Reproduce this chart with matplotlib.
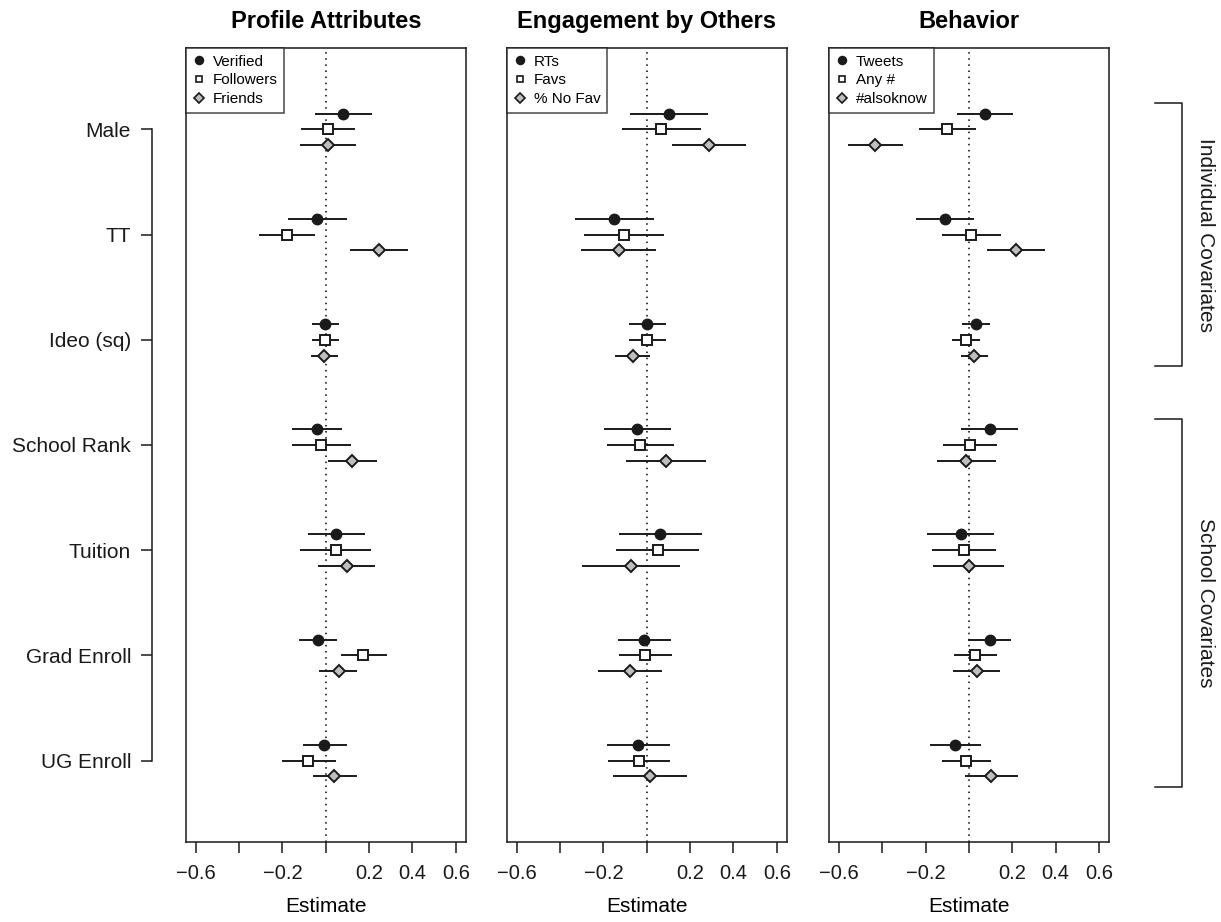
import matplotlib
matplotlib.use("Agg")
import matplotlib.pyplot as plt
import matplotlib.transforms as mtransforms
from matplotlib.lines import Line2D

plt.rcParams['font.family'] = ['Liberation Sans', 'DejaVu Sans']

# covariates, top to bottom
covariates = ["Male", "TT", "Ideo (sq)", "School Rank", "Tuition", "Grad Enroll", "UG Enroll"]

panel_titles = ["Profile Attributes", "Engagement by Others", "Behavior"]
series_names = [["Verified", "Followers", "Friends"],
                ["RTs", "Favs", "% No Fav"],
                ["Tweets", "Any #", "#alsoknow"]]

# estimates and interval bounds, one list per series (order = covariates)
verified_est = [0.080, -0.040, -0.003, -0.042, 0.048, -0.037, -0.006]
verified_lo = [-0.051, -0.176, -0.065, -0.154, -0.083, -0.125, -0.106]
verified_hi = [0.215, 0.096, 0.063, 0.073, 0.181, 0.051, 0.096]

followers_est = [0.012, -0.179, -0.005, -0.020, 0.046, 0.174, -0.080]
followers_lo = [-0.113, -0.309, -0.063, -0.157, -0.117, 0.068, -0.202]
followers_hi = [0.137, -0.048, 0.059, 0.117, 0.211, 0.282, 0.045]

friends_est = [0.011, 0.247, -0.008, 0.122, 0.096, 0.059, 0.040]
friends_lo = [-0.120, 0.113, -0.069, 0.011, -0.037, -0.029, -0.060]
friends_hi = [0.140, 0.381, 0.057, 0.238, 0.228, 0.145, 0.144]

rts_est = [0.104, -0.152, 0.003, -0.043, 0.062, -0.012, -0.039]
rts_lo = [-0.078, -0.333, -0.084, -0.198, -0.129, -0.135, -0.184]
rts_hi = [0.284, 0.033, 0.088, 0.113, 0.253, 0.113, 0.107]

favs_est = [0.065, -0.104, 0.003, -0.029, 0.051, -0.008, -0.036]
favs_lo = [-0.115, -0.288, -0.084, -0.184, -0.140, -0.130, -0.180]
favs_hi = [0.248, 0.079, 0.088, 0.126, 0.240, 0.116, 0.109]

nofav_est = [0.288, -0.129, -0.065, 0.088, -0.071, -0.078, 0.016]
nofav_lo = [0.116, -0.304, -0.147, -0.095, -0.298, -0.225, -0.157]
nofav_hi = [0.459, 0.043, 0.017, 0.271, 0.152, 0.070, 0.184]

tweets_est = [0.073, -0.110, 0.032, 0.096, -0.037, 0.096, -0.063]
tweets_lo = [-0.056, -0.244, -0.031, -0.035, -0.193, -0.005, -0.181]
tweets_hi = [0.202, 0.026, 0.096, 0.225, 0.116, 0.196, 0.054]

anyhash_est = [-0.100, 0.012, -0.012, 0.005, -0.022, 0.029, -0.012]
anyhash_lo = [-0.228, -0.123, -0.076, -0.120, -0.168, -0.068, -0.123]
anyhash_hi = [0.032, 0.150, 0.051, 0.130, 0.127, 0.128, 0.102]

alsoknow_est = [-0.431, 0.218, 0.025, -0.012, 0.000, 0.037, 0.103]
alsoknow_lo = [-0.557, 0.083, -0.035, -0.148, -0.165, -0.071, -0.020]
alsoknow_hi = [-0.304, 0.349, 0.090, 0.125, 0.162, 0.145, 0.227]

panels = [
    [(verified_est, verified_lo, verified_hi),
     (followers_est, followers_lo, followers_hi),
     (friends_est, friends_lo, friends_hi)],
    [(rts_est, rts_lo, rts_hi),
     (favs_est, favs_lo, favs_hi),
     (nofav_est, nofav_lo, nofav_hi)],
    [(tweets_est, tweets_lo, tweets_hi),
     (anyhash_est, anyhash_lo, anyhash_hi),
     (alsoknow_est, alsoknow_lo, alsoknow_hi)],
]

x_ticks = [-0.6, -0.4, -0.2, 0.0, 0.2, 0.4, 0.6]
x_ticklabels = ["\u22120.6", "", "\u22120.2", "", "0.2", "0.4", "0.6"]

groups = [("Individual Covariates", 7.25, 4.75), ("School Covariates", 4.25, 0.75)]

# marker styles for the three series
styles = [dict(marker='o', markersize=7.5, markerfacecolor='#1a1a1a', markeredgecolor='#1a1a1a'),
          dict(marker='s', markersize=6.5, markerfacecolor='white', markeredgecolor='#1a1a1a', markeredgewidth=1.4),
          dict(marker='D', markersize=6.5, markerfacecolor='#bebebe', markeredgecolor='#1a1a1a', markeredgewidth=1.4)]
offsets = [0.15, 0.0, -0.15]

n = len(covariates)
ypos = [n - i for i in range(n)]

fig = plt.figure(figsize=(12.21, 9.22), dpi=100)
lefts = [0.1523, 0.4152, 0.679]
axes = []
for p in range(3):
    ax = fig.add_axes([lefts[p], 0.0868, 0.2290, 0.8612])
    axes.append(ax)
    ax.axvline(0, color='black', linestyle=(0, (1, 3)), linewidth=1.1, zorder=1)
    for s in range(3):
        est, lo, hi = panels[p][s]
        yy = [y + offsets[s] for y in ypos]
        ax.hlines(yy, lo, hi, color='#1a1a1a', linewidth=1.4, zorder=2)
        ax.plot(est, yy, linestyle='none', zorder=3, **styles[s])

    ax.set_xlim(-0.645, 0.645)
    ax.set_ylim(0.226, 7.774)
    ax.set_xticks(x_ticks)
    ax.set_xticklabels(x_ticklabels, fontsize=14.5)
    ax.tick_params(axis='x', direction='out', length=8, width=1.1, pad=8, colors='#1a1a1a')
    ax.set_yticks([])
    ax.set_xlabel("Estimate", fontsize=15, labelpad=10)
    ax.set_title(panel_titles[p], fontsize=17, fontweight='bold', pad=14)
    for sp in ax.spines.values():
        sp.set_linewidth(1.1)
        sp.set_color('#1a1a1a')

    handles = [Line2D([], [], linestyle='none',
                      **{**styles[s], 'markersize': styles[s]['markersize'] * 0.75,
                         'markeredgewidth': 1.2})
               for s in range(3)]
    leg = ax.legend(handles, series_names[p], loc='upper left', fontsize=11,
                    frameon=True, fancybox=False, borderaxespad=0,
                    handlelength=0.8, handletextpad=0.5, borderpad=0.45,
                    labelspacing=0.3)
    leg.get_frame().set_edgecolor('#1a1a1a')
    leg.get_frame().set_linewidth(1.1)

# covariate axis, set off to the left of the first panel
ax1 = axes[0]
sec = ax1.secondary_yaxis(-0.122)
sec.set_yticks(ypos)
sec.set_yticklabels(covariates, fontsize=15)
sec.tick_params(axis='y', direction='out', length=8, width=1.1, pad=7, colors='#1a1a1a')
sec.spines['left'].set_bounds(min(ypos), max(ypos))
sec.spines['left'].set_linewidth(1.1)
sec.spines['left'].set_color('#1a1a1a')

# group brackets on the right of the last panel
ax3 = axes[2]
trans = mtransforms.blended_transform_factory(ax3.transAxes, ax3.transData)
for name, top, bottom in groups:
    ax3.plot([1.164, 1.264, 1.264, 1.164], [top, top, bottom, bottom],
             color='#1a1a1a', linewidth=1.1, transform=trans, clip_on=False)
    ax3.text(1.345, (top + bottom) / 2, name, rotation=-90, fontsize=15,
             ha='center', va='center', transform=trans, color='#1a1a1a')

fig.savefig("out.png", dpi=100)
